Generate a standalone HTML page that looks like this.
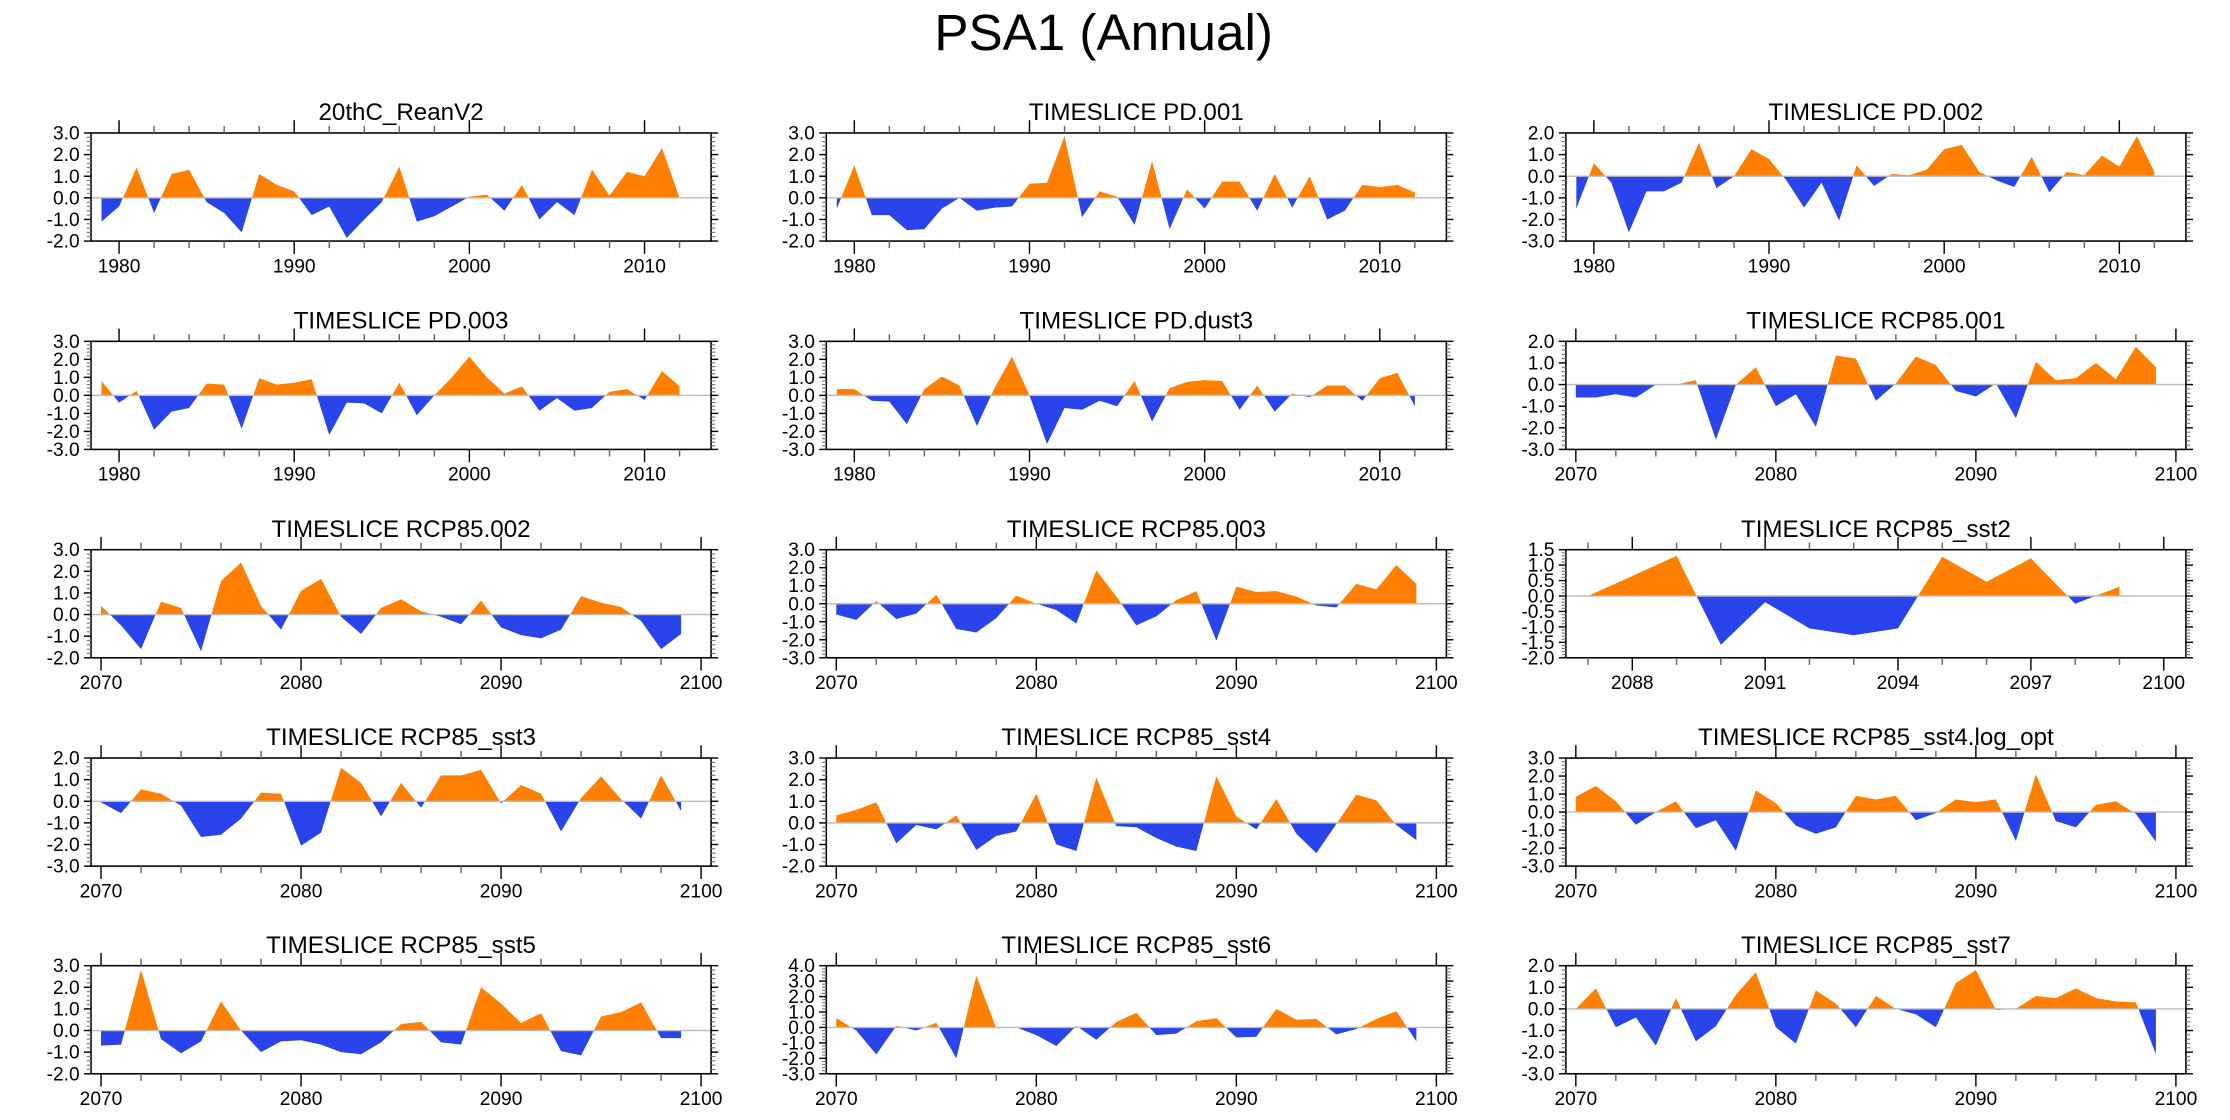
<!DOCTYPE html>
<html><head><meta charset="utf-8"><title>PSA1 (Annual)</title>
<style>
html,body{margin:0;padding:0;background:#fff;}
svg{display:block;}
text{font-family:"Liberation Sans",Arial,sans-serif;fill:#000;}
</style></head>
<body>
<svg id="chart" xmlns="http://www.w3.org/2000/svg" width="2230" height="1120" viewBox="0 0 1568 787.5">
<rect x="0" y="0" width="1568" height="787.5" fill="#fff"/>
<text x="776" y="35" font-size="36" text-anchor="middle">PSA1 (Annual)</text>
<defs id="defs"></defs>
</svg>
<script>
// ---- data (years start: PD panels 1979, RCP panels 2070, sst2 panel 2087) ----
const titles = ["20thC_ReanV2","TIMESLICE PD.001","TIMESLICE PD.002","TIMESLICE PD.003","TIMESLICE PD.dust3","TIMESLICE RCP85.001","TIMESLICE RCP85.002","TIMESLICE RCP85.003","TIMESLICE RCP85_sst2","TIMESLICE RCP85_sst3","TIMESLICE RCP85_sst4","TIMESLICE RCP85_sst4.log_opt","TIMESLICE RCP85_sst5","TIMESLICE RCP85_sst6","TIMESLICE RCP85_sst7"];
const startYears = [1979,1979,1979,1979,1979,2070,2070,2070,2087,2070,2070,2070,2070,2070,2070];
const yMaxes = [3,3,2,3,3,2,3,3,1.5,2,3,3,3,4,2];
const yMins = [-2,-2,-3,-3,-3,-3,-2,-3,-2,-3,-2,-3,-2,-3,-3];
const yTickSteps = [1,1,1,1,1,1,1,1,0.5,1,1,1,1,1,1];
const xMajorPD = [1980,1990,2000,2010];
const xMajorRCP = [2070,2080,2090,2100];
const xMajorSst2 = [2088,2091,2094,2097,2100];

const reanV2 = [-1.1,-0.4,1.4,-0.7,1.1,1.3,-0.2,-0.7,-1.6,1.1,0.6,0.3,-0.8,-0.4,-1.85,-1.0,-0.2,1.45,-1.1,-0.85,-0.4,0.05,0.15,-0.6,0.6,-1.0,-0.2,-0.8,1.3,0.1,1.2,1.0,2.3,0.0];
const pd001 = [-0.5,1.5,-0.8,-0.8,-1.5,-1.45,-0.5,0.0,-0.6,-0.45,-0.4,0.65,0.7,2.85,-0.9,0.3,0.05,-1.25,1.7,-1.45,0.4,-0.5,0.75,0.75,-0.6,1.1,-0.45,1.0,-1.0,-0.6,0.6,0.5,0.6,0.25];
const pd002 = [-1.5,0.6,-0.3,-2.6,-0.7,-0.7,-0.3,1.55,-0.55,0.0,1.25,0.8,-0.2,-1.45,-0.3,-2.05,0.5,-0.45,0.1,0.05,0.3,1.25,1.45,0.2,-0.2,-0.5,0.9,-0.75,0.2,0.05,0.95,0.45,1.85,0.2];
const pd003 = [0.8,-0.4,0.25,-1.9,-0.9,-0.7,0.65,0.6,-1.85,0.95,0.6,0.7,0.9,-2.2,-0.4,-0.45,-1.0,0.7,-1.1,0.0,1.0,2.15,1.0,0.1,0.5,-0.85,-0.15,-0.85,-0.7,0.2,0.35,-0.25,1.35,0.5];
const pdDust3 = [0.35,0.35,-0.3,-0.35,-1.6,0.35,1.05,0.55,-1.7,0.4,2.15,0.0,-2.7,-0.7,-0.8,-0.3,-0.6,0.8,-1.45,0.4,0.75,0.85,0.8,-0.8,0.55,-0.9,0.1,-0.1,0.55,0.55,-0.3,0.95,1.25,-0.6];
const rcp001 = [-0.6,-0.6,-0.45,-0.6,0.0,0.0,0.2,-2.55,0.0,0.8,-1.0,-0.45,-1.95,1.35,1.2,-0.75,0.05,1.3,0.9,-0.3,-0.55,0.05,-1.55,1.05,0.2,0.3,1.0,0.25,1.75,0.8];
const rcp002 = [0.4,-0.5,-1.6,0.6,0.3,-1.7,1.55,2.4,0.4,-0.7,1.1,1.65,-0.1,-0.9,0.3,0.7,0.15,-0.1,-0.45,0.65,-0.6,-0.95,-1.1,-0.7,0.85,0.55,0.35,-0.3,-1.6,-0.9];
const rcp003 = [-0.6,-0.9,0.15,-0.85,-0.55,0.5,-1.4,-1.6,-0.8,0.45,0.0,-0.35,-1.1,1.85,0.4,-1.2,-0.7,0.2,0.7,-2.05,0.95,0.65,0.7,0.4,-0.1,-0.2,1.1,0.8,2.15,1.1];
const sst2 = [0.0,0.65,1.3,-1.58,-0.2,-1.05,-1.27,-1.05,1.27,0.46,1.22,-0.25,0.3];
const sst3 = [-0.05,-0.55,0.55,0.35,-0.2,-1.65,-1.55,-0.8,0.4,0.35,-2.05,-1.45,1.55,0.85,-0.7,0.85,-0.3,1.2,1.2,1.45,-0.1,0.75,0.35,-1.4,0.15,1.15,0.1,-0.8,1.2,-0.45];
const sst4 = [0.35,0.6,0.95,-0.95,-0.1,-0.3,0.35,-1.25,-0.6,-0.4,1.35,-1.0,-1.3,2.1,-0.15,-0.2,-0.7,-1.1,-1.3,2.15,0.3,-0.3,1.1,-0.5,-1.4,-0.05,1.3,1.05,-0.1,-0.8];
const sst4Log = [0.85,1.45,0.6,-0.7,0.0,0.6,-0.9,-0.45,-2.15,1.2,0.5,-0.75,-1.2,-0.85,0.9,0.7,0.9,-0.45,-0.05,0.7,0.55,0.7,-1.6,2.1,-0.5,-0.85,0.4,0.6,-0.1,-1.65];
const sst5 = [-0.7,-0.65,2.8,-0.4,-1.05,-0.5,1.35,0.0,-1.0,-0.5,-0.45,-0.65,-1.0,-1.1,-0.55,0.3,0.4,-0.55,-0.65,2.0,1.25,0.35,0.8,-0.95,-1.15,0.65,0.85,1.3,-0.35,-0.35];
const sst6 = [0.6,-0.2,-1.75,0.1,-0.2,0.3,-2.0,3.35,-0.05,0.0,-0.5,-1.2,0.1,-0.8,0.35,0.95,-0.5,-0.4,0.4,0.6,-0.65,-0.6,1.2,0.5,0.55,-0.45,-0.1,0.55,1.05,-0.9];
const sst7 = [0.0,0.95,-0.85,-0.4,-1.7,0.5,-1.5,-0.8,0.65,1.7,-0.85,-1.6,0.85,0.25,-0.85,0.6,0.0,-0.25,-0.85,1.2,1.8,-0.05,0.0,0.6,0.5,0.95,0.5,0.35,0.3,-2.1];

const series = [reanV2,pd001,pd002,pd003,pdDust3,rcp001,rcp002,rcp003,sst2,sst3,sst4,sst4Log,sst5,sst6,sst7];
const panelNames = ["reanv2","pd001","pd002","pd003","pd-dust3","rcp85-001","rcp85-002","rcp85-003","rcp85-sst2","rcp85-sst3","rcp85-sst4","rcp85-sst4-log-opt","rcp85-sst5","rcp85-sst6","rcp85-sst7"];

// ---- layout ----
const NS = "http://www.w3.org/2000/svg";
const svg = document.getElementById('chart');
const defs = document.getElementById('defs');
const colX = [64, 581, 1101];
const rowY = [93.5, 240, 386.5, 533, 679];
const PW = 436, PH = 76;
const ORANGE = "#ff8000", BLUE = "#2944ea";

function mk(tag, attrs, parent) {
  const e = document.createElementNS(NS, tag);
  for (const k in attrs) e.setAttribute(k, attrs[k]);
  (parent || svg).appendChild(e);
  return e;
}

function drawPanel(i) {
  const col = i % 3, row = Math.floor(i / 3);
  const L = colX[col], T = rowY[row];
  const data = series[i];
  const y0 = startYears[i];
  const isPD = y0 < 2000, isSst2 = (i === 8);
  const xmin = isPD ? 1978.4 : (isSst2 ? 2086.5 : 2069.5);
  const xmax = isPD ? 2013.8 : 2100.5;
  const ymax = yMaxes[i], ymin = yMins[i], step = yTickSteps[i];
  const sx = v => L + (v - xmin) / (xmax - xmin) * PW;
  const sy = v => T + (ymax - v) / (ymax - ymin) * PH;

  const g = mk('g', {});
  
  

  const t = mk('text', {x: L + PW / 2, y: T - 9, 'font-size': 17, 'text-anchor': 'middle'}, g);
  t.textContent = titles[i];
  
  

  // clip paths
  const zy = sy(0);
  const cpA = mk('clipPath', {id: 'ca' + i}, defs);
  mk('rect', {x: L, y: T, width: PW, height: Math.max(0, zy - T)}, cpA);
  const cpB = mk('clipPath', {id: 'cb' + i}, defs);
  mk('rect', {x: L, y: zy, width: PW, height: Math.max(0, T + PH - zy)}, cpB);

  let pts = sx(y0).toFixed(2) + ',' + zy.toFixed(2) + ' ';
  data.forEach((v, k) => { pts += sx(y0 + k).toFixed(2) + ',' + sy(v).toFixed(2) + ' '; });
  pts += sx(y0 + data.length - 1).toFixed(2) + ',' + zy.toFixed(2);

  const pos = mk('polygon', {points: pts, fill: ORANGE, 'clip-path': 'url(#ca' + i + ')'}, g);
  
  
  const neg = mk('polygon', {points: pts, fill: BLUE, 'clip-path': 'url(#cb' + i + ')'}, g);
  
  

  const zl = mk('line', {x1: L, x2: L + PW, y1: zy, y2: zy, stroke: '#bdbdbd', 'stroke-width': 1}, g);
  
  

  const fr = mk('rect', {x: L, y: T, width: PW, height: PH, fill: 'none', stroke: '#000', 'stroke-width': 1.1}, g);
  
  

  // y ticks
  const nMinor = 5;
  const ylabels = mk('g', {}, g);
  
  
  const nSteps = Math.round((ymax - ymin) / step);
  for (let k = 0; k <= nSteps; k++) {
    const v = ymin + k * step, yy = sy(v);
    mk('line', {x1: L - 5, x2: L, y1: yy, y2: yy, stroke: '#000', 'stroke-width': 1}, ylabels);
    mk('line', {x1: L + PW, x2: L + PW + 5, y1: yy, y2: yy, stroke: '#000', 'stroke-width': 1}, ylabels);
    const lb = mk('text', {x: L - 8, y: yy + 4.6, 'font-size': 13.5, 'text-anchor': 'end'}, ylabels);
    lb.textContent = v.toFixed(1);
    
    
    if (k < nSteps) {
      for (let m = 1; m < nMinor; m++) {
        const my = sy(v + m * step / nMinor);
        mk('line', {x1: L - 3, x2: L, y1: my, y2: my, stroke: '#777', 'stroke-width': 0.8}, ylabels);
        mk('line', {x1: L + PW, x2: L + PW + 3, y1: my, y2: my, stroke: '#777', 'stroke-width': 0.8}, ylabels);
      }
    }
  }

  // x ticks
  const xa = mk('g', {}, g);
  
  
  const majors = isPD ? xMajorPD : (isSst2 ? xMajorSst2 : xMajorRCP);
  const minorStep = isSst2 ? 1 : 2;
  for (let yr = Math.ceil(xmin); yr <= xmax; yr++) {
    const isMaj = majors.indexOf(yr) >= 0;
    if (!isMaj && (yr % minorStep) !== 0) continue;
    const xx = sx(yr), len = isMaj ? 9 : 5;
    mk('line', {x1: xx, x2: xx, y1: T - len, y2: T, stroke: isMaj ? '#000' : '#666', 'stroke-width': 1}, xa);
    mk('line', {x1: xx, x2: xx, y1: T + PH, y2: T + PH + len, stroke: isMaj ? '#000' : '#666', 'stroke-width': 1}, xa);
  }
  majors.forEach(yr => {
    const lb = mk('text', {x: sx(yr), y: T + PH + 22, 'font-size': 13.5, 'text-anchor': 'middle'}, xa);
    lb.textContent = String(yr);
    
    
  });
}

for (let i = 0; i < series.length; i++) drawPanel(i);
</script>
</body></html>
